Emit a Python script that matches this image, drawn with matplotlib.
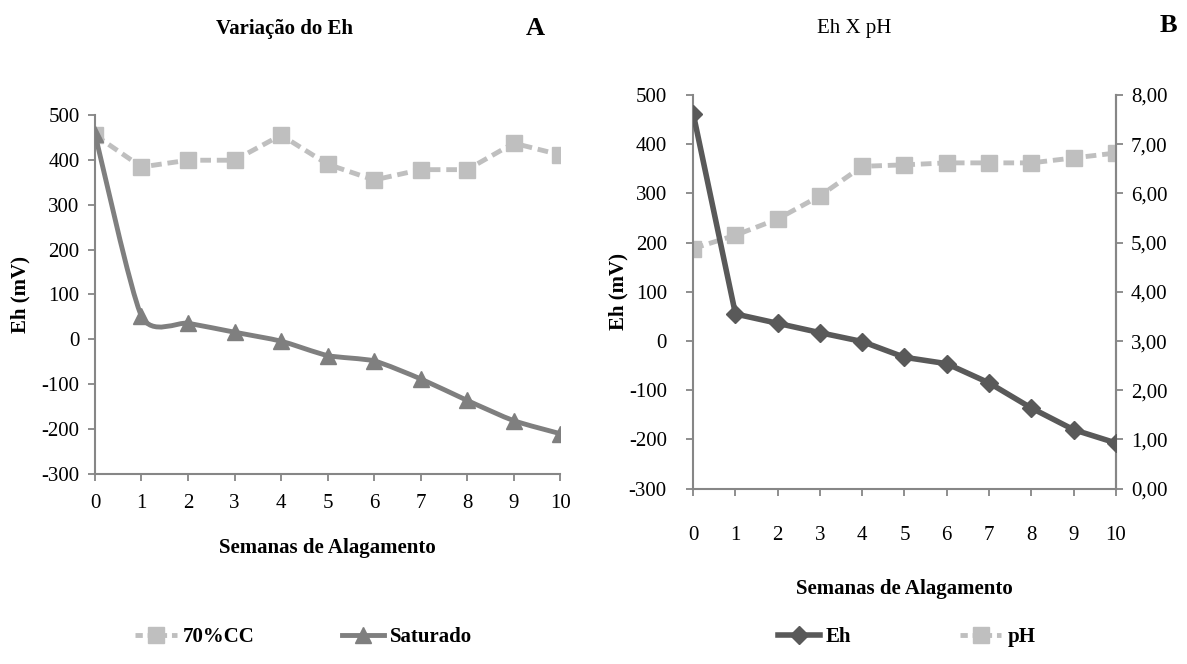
import numpy as np
import matplotlib
matplotlib.use("Agg")
from matplotlib import pyplot as plt
from matplotlib.path import Path
from matplotlib.patches import PathPatch
from matplotlib.lines import Line2D
from matplotlib.ticker import FuncFormatter

semanas = [0, 1, 2, 3, 4, 5, 6, 7, 8, 9, 10]
cc70 = [455, 384, 399, 399, 455, 390, 355, 378, 378, 437, 411]
saturado = [458, 52, 36, 16, -4, -36, -48, -88, -136, -181, -210]
eh = [462, 55, 36, 17, -1, -33, -46, -85, -136, -180, -207]
ph = [4.88, 5.15, 5.48, 5.95, 6.55, 6.58, 6.62, 6.62, 6.62, 6.72, 6.82]

plt.rcParams['font.family'] = ['Liberation Serif', 'DejaVu Serif']
plt.rcParams['axes.unicode_minus'] = False

c_light = '#BFBFBF'
c_mid = '#7F7F7F'
c_dark = '#595959'
c_axis = '#868686'


def smooth_path(x, y, k=0.11):
    # smoothed line like excel: cubic bezier through the points
    pts = np.column_stack([x, y]).astype(float)
    verts = [pts[0]]
    codes = [Path.MOVETO]
    n = len(pts)
    for i in range(n - 1):
        p0 = pts[i - 1] if i > 0 else pts[i]
        p1 = pts[i]
        p2 = pts[i + 1]
        p3 = pts[i + 2] if i + 2 < n else pts[i + 1]
        c1 = p1 + (p2 - p0) * k
        c2 = p2 - (p3 - p1) * k
        verts += [c1, c2, p2]
        codes += [Path.CURVE4] * 3
    return Path(verts, codes)


def style_axes(ax):
    for s in ['top', 'right']:
        ax.spines[s].set_visible(False)
    for s in ['left', 'bottom', 'right']:
        ax.spines[s].set_color(c_axis)
        ax.spines[s].set_linewidth(1.5)
    ax.tick_params(colors=c_axis, labelcolor='black', labelsize=15, width=1.3, length=5)


fig = plt.figure(figsize=(11.87, 6.64), dpi=100)

# --- A ---
ax1 = fig.add_axes([0.080, 0.286, 0.392, 0.541])
style_axes(ax1)
ax1.plot(semanas, cc70, color=c_light, lw=3.5, ls=(0, (2.2, 1.2)), marker='s', ms=11, zorder=3)
ax1.add_patch(PathPatch(smooth_path(semanas, saturado), fill=False, edgecolor=c_mid, lw=3.5, zorder=4))
ax1.plot(semanas, saturado, ls='none', color=c_mid, marker='^', ms=11, zorder=5)
ax1.set_xlim(0, 10)
ax1.set_ylim(-300, 500)
ax1.set_xticks(semanas)
ax1.set_yticks(range(-300, 501, 100))
ax1.tick_params(axis='x', pad=9)
ax1.tick_params(axis='y', pad=6)
ax1.set_xlabel('Semanas de Alagamento', fontsize=15, fontweight='bold', labelpad=18)
ax1.set_ylabel('Eh (mV)', fontsize=15, fontweight='bold', labelpad=8)
fig.text(0.240, 0.957, 'Variação do Eh', fontsize=15, fontweight='bold', ha='center', va='center')
fig.text(0.451, 0.957, 'A', fontsize=19, fontweight='bold', ha='center', va='center')
h1 = [Line2D([], [], color=c_light, lw=3.5, ls=(0, (1.5, 1)), marker='s', ms=11),
      Line2D([], [], color=c_mid, lw=3.5, marker='^', ms=11)]
fig.legend(h1, ['70%CC', 'Saturado'], loc='center', bbox_to_anchor=(0.256, 0.04), ncol=2,
           frameon=False, handlelength=2.0, columnspacing=4.2, handletextpad=0.3,
           prop={'size': 15, 'weight': 'bold'})

# --- B ---
ax2 = fig.add_axes([0.584, 0.264, 0.356, 0.593])
style_axes(ax2)
ax2.spines['right'].set_visible(True)
ax2.plot(semanas, eh, color=c_dark, lw=4, marker='D', ms=9, zorder=5)
ax2.set_xlim(0, 10)
ax2.set_ylim(-300, 500)
ax2.set_xticks(semanas)
ax2.set_yticks(range(-300, 501, 100))
ax2.tick_params(axis='x', pad=22)
ax2.tick_params(axis='y', pad=14)
ax2.set_xlabel('Semanas de Alagamento', fontsize=15, fontweight='bold', labelpad=24)
ax2.set_ylabel('Eh (mV)', fontsize=15, fontweight='bold', labelpad=0)

ax3 = ax2.twinx()
ax3.plot(semanas, ph, color=c_light, lw=3.5, ls=(0, (2.2, 1.2)), marker='s', ms=11, zorder=3)
ax3.set_ylim(0, 8)
ax3.set_yticks(range(0, 9))
ax3.yaxis.set_major_formatter(FuncFormatter(lambda v, p: ('%.2f' % v).replace('.', ',')))
for s in ['top', 'left', 'bottom']:
    ax3.spines[s].set_visible(False)
ax3.spines['right'].set_color(c_axis)
ax3.spines['right'].set_linewidth(1.5)
ax3.tick_params(colors=c_axis, labelcolor='black', labelsize=15, width=1.3, length=5, pad=6)
ax2.set_zorder(ax3.get_zorder() + 1)
ax2.patch.set_visible(False)

fig.text(0.720, 0.957, 'Eh X pH', fontsize=15, ha='center', va='center')
fig.text(0.984, 0.962, 'B', fontsize=19, fontweight='bold', ha='center', va='center')
h2 = [Line2D([], [], color=c_dark, lw=4, marker='D', ms=9),
      Line2D([], [], color=c_light, lw=3.5, ls=(0, (1.5, 1)), marker='s', ms=11)]
fig.legend(h2, ['Eh', 'pH'], loc='center', bbox_to_anchor=(0.764, 0.04), ncol=2,
           frameon=False, handlelength=2.0, columnspacing=5.2, handletextpad=0.3,
           prop={'size': 15, 'weight': 'bold'})

fig.savefig('out.png', dpi=100)
